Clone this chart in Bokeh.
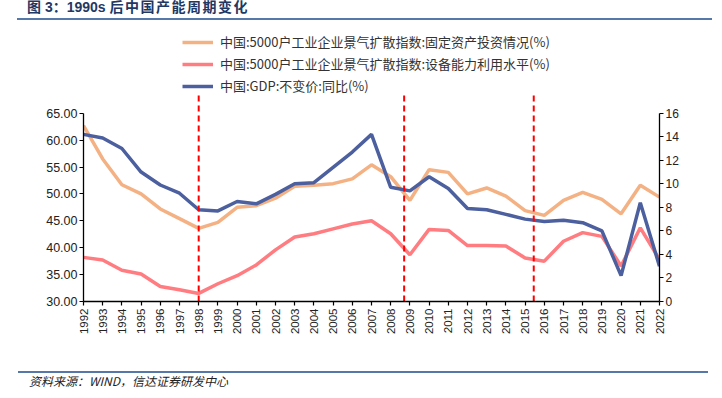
import math
from bokeh.plotting import figure
from bokeh.layouts import column
from bokeh.models import (Range1d, LinearAxis, FixedTicker, NumeralTickFormatter,
                          Legend, LegendItem, Div)
from bokeh.embed import file_html
from bokeh.resources import INLINE

# ---------------- data ----------------
years = list(range(1992, 2023))
invest = [62.7, 56.5, 51.7, 50.0, 47.2, 45.4, 43.6, 44.7, 47.5, 47.8,
          49.2, 51.4, 51.6, 51.9, 52.8, 55.4, 53.2, 48.8, 54.5, 54.0,
          50.0, 51.1, 49.6, 46.9, 46.0, 48.8, 50.3, 49.0, 46.3, 51.6, 49.4]
capacity = [38.2, 37.7, 35.8, 35.1, 32.8, 32.2, 31.5, 33.3, 34.8, 36.8,
            39.6, 42.0, 42.6, 43.5, 44.4, 45.0, 42.6, 38.7, 43.4, 43.2,
            40.4, 40.4, 40.3, 38.1, 37.5, 41.2, 42.8, 42.1, 36.6, 43.7, 37.8]
gdp = [14.2, 13.9, 13.0, 11.0, 9.9, 9.2, 7.8, 7.7, 8.5, 8.3,
       9.1, 10.0, 10.1, 11.4, 12.7, 14.2, 9.7, 9.4, 10.6, 9.6,
       7.9, 7.8, 7.4, 7.0, 6.8, 6.9, 6.7, 6.0, 2.2, 8.4, 3.0]
cycle_marks = [1998, 2008.7, 2015.45]

left_ticks = [30, 35, 40, 45, 50, 55, 60, 65]
right_ticks = [0, 2, 4, 6, 8, 10, 12, 14, 16]

names = ["中国:5000户工业企业景气扩散指数:固定资产投资情况(%)",
         "中国:5000户工业企业景气扩散指数:设备能力利用水平(%)",
         "中国:GDP:不变价:同比(%)"]
title_parts = ["图 3：", "1990s ", "后中国产能周期变化"]
source_text = "资料来源：WIND，信达证券研发中心"

# ---------------- layout numbers ----------------
W, H = 720, 343
BL, BR, BT, BB = 83, 61, 2, 64
frame_h = H - BT - BB            # 277
px_per_left = 188.3 / 35.0       # pixels per left-axis unit
px_per_right = 188.3 / 16.0
left_top = 30 + frame_h / px_per_left
right_top = frame_h / px_per_right
dash_top = 30 + 209 / px_per_left  # dashed markers stop just under legend

CJK = "Noto Sans CJK SC"
LAT = "Liberation Sans"

p = figure(width=W, height=H, output_backend="svg", toolbar_location=None,
           x_range=Range1d(1992, 2022), y_range=Range1d(30, left_top),
           min_border_left=BL, min_border_right=BR, min_border_top=BT,
           min_border_bottom=BB, outline_line_color=None,
           background_fill_color="white", border_fill_color="white")
p.extra_y_ranges = {"right": Range1d(0, right_top)}
p.xgrid.visible = False
p.ygrid.visible = False

ya = p.yaxis[0]
ya.ticker = FixedTicker(ticks=left_ticks)
ya.formatter = NumeralTickFormatter(format="0.00")
ya.bounds = (30, 65)

ra = LinearAxis(y_range_name="right", ticker=FixedTicker(ticks=right_ticks),
                bounds=(0, 16))
p.add_layout(ra, "right")

xa = p.xaxis[0]
xa.ticker = FixedTicker(ticks=years)
xa.major_label_orientation = math.pi / 2

for ax in [ya, ra, xa]:
    ax.axis_line_color = "#000000"
    ax.axis_line_width = 1.3
    ax.major_tick_line_color = "#000000"
    ax.major_tick_line_width = 1.2
    ax.major_tick_in = 0
    ax.major_tick_out = 4
    ax.minor_tick_line_color = None
    ax.major_label_text_font = LAT
    ax.major_label_text_color = "#222222"
    ax.major_label_standoff = 2
ya.major_label_text_font_size = "12.5px"
ra.major_label_text_font_size = "12px"
xa.major_label_text_font_size = "11.5px"
xa.major_label_standoff = 3

r1 = p.line(years, invest, line_color="#F4B183", line_width=3.5)
r2 = p.line(years, capacity, line_color="#FF7C80", line_width=3.5)
r3 = p.line(years, gdp, line_color="#4C5F9E", line_width=3.5,
            y_range_name="right")

p.segment(x0=cycle_marks, y0=[30] * len(cycle_marks),
          x1=cycle_marks, y1=[dash_top] * len(cycle_marks),
          line_color="#FF0000", line_width=2, line_dash="6 4")

legend = Legend(items=[LegendItem(label=names[0], renderers=[r1]),
                       LegendItem(label=names[1], renderers=[r2]),
                       LegendItem(label=names[2], renderers=[r3])],
                location=(99, 206), orientation="vertical",
                glyph_width=31, glyph_height=16, label_height=16,
                label_standoff=7, spacing=3, padding=0, margin=0,
                border_line_color=None, background_fill_alpha=0,
                label_text_font=CJK, label_text_font_size="13px",
                label_text_color="#333333")
p.add_layout(legend, "center")

title_div = Div(
    text=('<div style="margin-left:17px;width:695px;height:20px;'
          'border-bottom:2px solid #5578A8;'
          'font-family:\'Liberation Sans\',\'Noto Sans CJK SC\',sans-serif;'
          'font-size:14px;font-weight:bold;color:#1F3864;line-height:14px;'
          'white-space:nowrap;"><span style="padding-left:10px;">'
          + title_parts[0] + '</span><span>' + title_parts[1]
          + '</span><span style="letter-spacing:1.5px;">' + title_parts[2]
          + '</span></div>'),
    width=W, height=22, margin=(0, 0, 0, 0))

source_div = Div(
    text=('<div style="margin-left:18px;margin-top:6px;width:690px;'
          'border-top:2px solid #5578A8;padding-top:1px;'
          'font-family:\'Noto Sans CJK SC\';font-size:12px;font-style:italic;'
          'color:#222222;line-height:14px;white-space:nowrap;">'
          '<span style="padding-left:11px;">' + source_text + '</span></div>'),
    width=W, height=30, margin=(0, 0, 0, 0))

layout = column(title_div, p, source_div, spacing=0)

open("out.html", "w").write(file_html(layout, INLINE))
